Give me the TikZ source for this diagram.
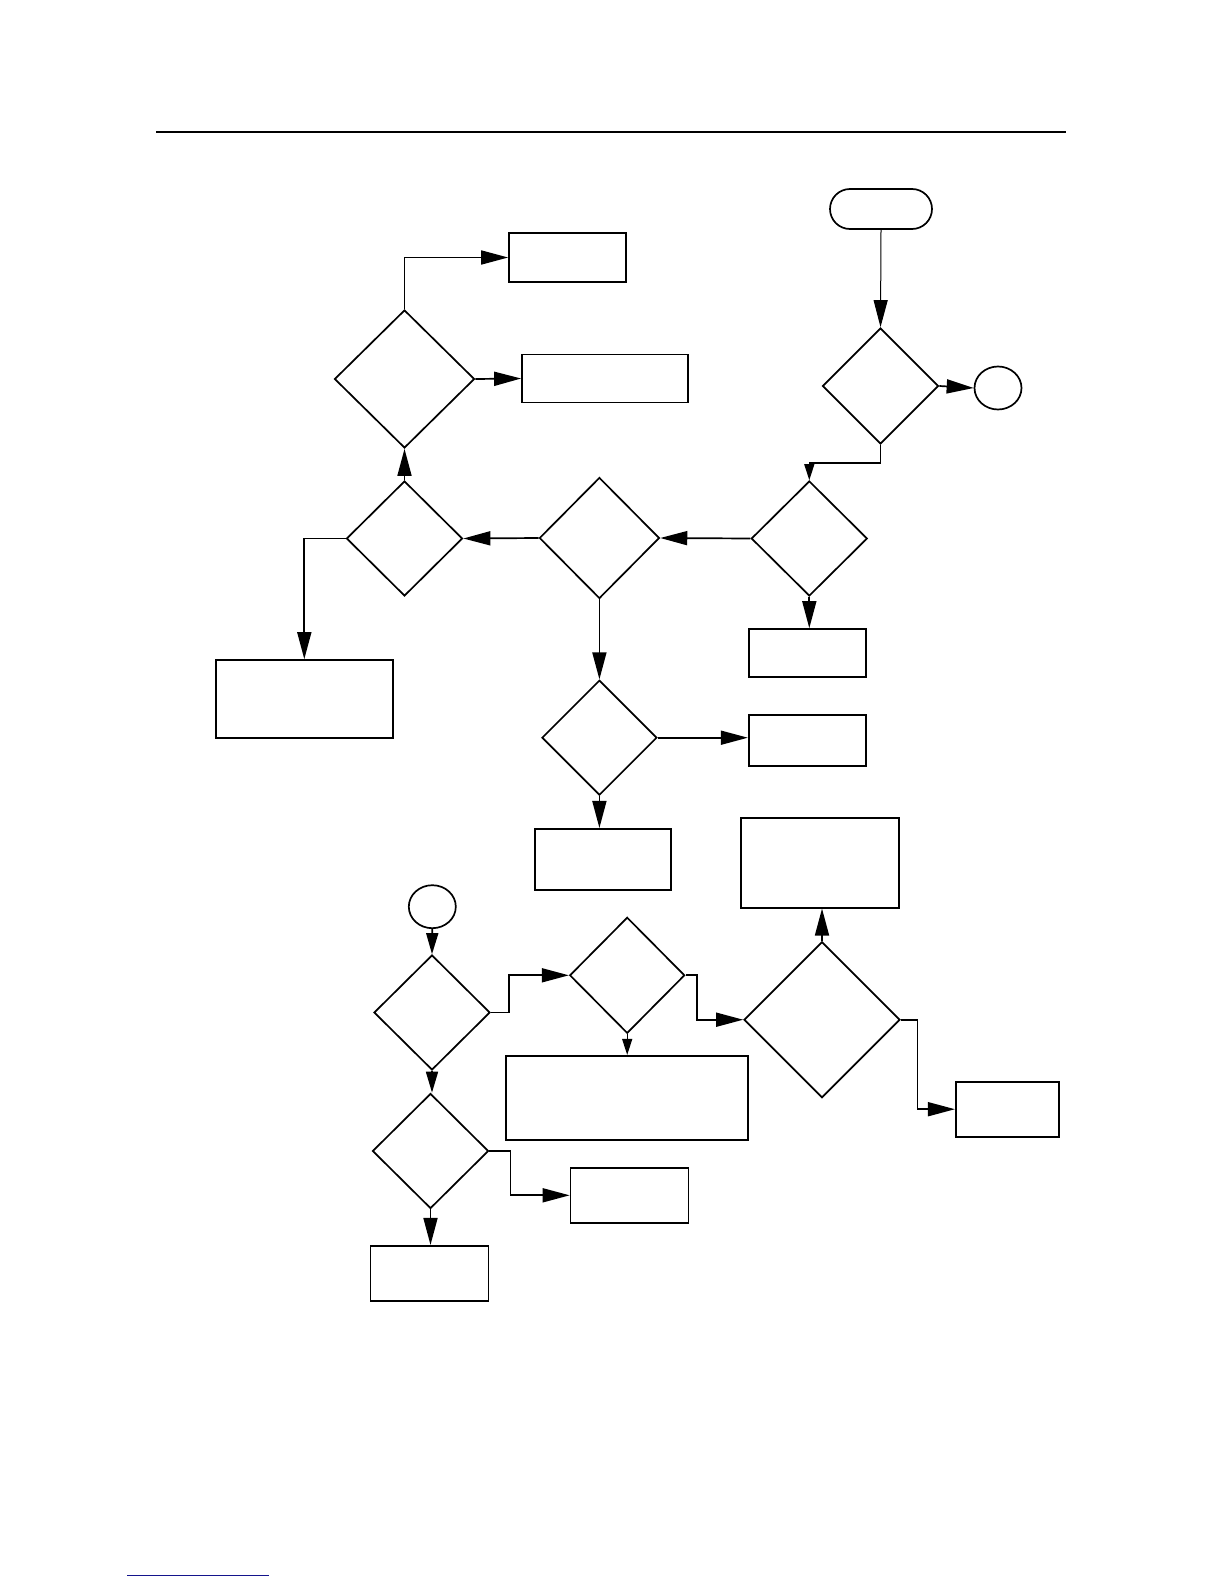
\documentclass[tikz,border=0pt]{standalone}
\usetikzlibrary{arrows.meta,shapes.geometric,shapes.misc}
\begin{document}
\begin{tikzpicture}[x=1pt,y=-1pt,
  box/.style={draw,line width=1.7pt,rectangle,inner sep=0pt},
  dia/.style={draw,line width=1.7pt,diamond,inner sep=0pt},
  circ/.style={draw,line width=1.7pt,ellipse,inner sep=0pt,minimum width=47pt,minimum height=43pt},
  term/.style={draw,line width=1.7pt,rounded rectangle,inner sep=0pt},
  arr/.style={line width=1.7pt,-{Triangle[length=27pt,width=14pt]}},
  arrm/.style={line width=1.7pt,-{Triangle[length=21pt,width=12pt]}},
  arrs/.style={line width=1.2pt,-{Triangle[length=16pt,width=10pt]}},
  arrt/.style={line width=1pt,-{Triangle[length=27pt,width=14pt]}}
]
\useasboundingbox (0,0) rectangle (1224,1584);
% header rule and footer link line
\coordinate (hl) at (156,132);
\coordinate (hr) at (1066,132);
\draw[line width=1.8pt] (hl) -- (hr);
\coordinate (fl) at (127,1575);
\coordinate (fr) at (269,1575);
\draw[line width=1pt,color={rgb,255:red,20;green,20;blue,140}] (fl) -- (fr);

% top-right start
\node[term,minimum width=102pt,minimum height=40pt] (st) at (881,209) {};
\node[dia,minimum width=116pt,minimum height=116pt] (B) at (880.5,386) {};
\node[circ] (C1) at (998,388) {};
\coordinate (bd) at (809.3,463);

% middle row of diamonds
\node[dia,minimum width=116pt,minimum height=115pt] (D) at (809.3,538.5) {};
\node[dia,minimum width=120pt,minimum height=121pt] (F) at (599.4,538) {};
\node[dia,minimum width=116pt,minimum height=115pt] (E) at (404.5,538.5) {};

% top-left
\node[dia,minimum width=140pt,minimum height=138pt] (A) at (404.5,379) {};
\node[box,minimum width=117pt,minimum height=49pt] (r1) at (567.5,257.5) {};
\node[box,minimum width=166pt,minimum height=48pt] (r2) at (605,378.5) {};

% boxes below row
\node[box,minimum width=177pt,minimum height=78pt] (G) at (304.3,699) {};
\node[box,minimum width=117pt,minimum height=48pt] (H) at (807.2,653) {};
\node[dia,minimum width=115pt,minimum height=115pt] (I) at (599.4,737.7) {};
\node[box,minimum width=117pt,minimum height=51pt] (J) at (807.2,740.2) {};
\node[box,minimum width=136pt,minimum height=61pt] (K) at (603,859.3) {};
\node[box,minimum width=158pt,minimum height=90pt] (L) at (820.3,862.7) {};

% lower section
\node[circ] (C2) at (432.3,906.7) {};
\node[dia,minimum width=116pt,minimum height=115pt] (M) at (432,1012.5) {};
\node[dia,minimum width=116pt,minimum height=115pt] (N) at (430.5,1151) {};
\node[box,minimum width=118pt,minimum height=55pt] (O) at (429.5,1273.3) {};
\node[box,minimum width=118pt,minimum height=55pt] (P) at (629.5,1195.3) {};
\node[dia,minimum width=115pt,minimum height=116pt] (Q) at (627.2,975.3) {};
\node[box,minimum width=242pt,minimum height=84pt] (R) at (627,1097.8) {};
\node[dia,minimum width=156pt,minimum height=156pt] (S) at (822,1019.7) {};
\node[box,minimum width=103pt,minimum height=55pt] (T) at (1007.3,1109.2) {};

% connectors top
\draw[arrt] (st.south) -- (B.north);
\draw[arr] (B.east) -- (C1.west);
\draw[line width=1.3pt] (B.south) |- (bd);
\draw[arrs] (bd) -- (D.north);
\draw[arr] (D.west) -- (F.east);
\draw[arr] (F.west) -- (E.east);
\draw[arr] (E.north) -- (A.south);
\draw[arr] (A.north) |- (r1.west);
\draw[arr] (A.east) -- (r2.west);
\draw[arr] (E.west) -| (G.north);
\draw[arr] (D.south) -- (D.south |- H.north);
\draw[arr] (F.south) -- (I.north);
\draw[arr] (I.east) -- (I.east -| J.west);
\draw[arr] (I.south) -- (I.south |- K.north);

% connectors bottom
\draw[arrm] (C2.south) -- (M.north);
\draw[arrm] (M.south) -- (M.south |- N.north);
\draw[arr] (N.south) -- (N.south |- O.north);
\draw[arr] (N.east) -- ++(21,0) |- (P.west);
\draw[arr] (M.east) -- ++(18,0) |- (Q.west);
\draw[arrs] (Q.south) -- (Q.south |- R.north);
\draw[arr] (Q.east) -- ++(11.5,0) |- (S.west);
\draw[arr] (S.north) -- (S.north |- L.south);
\draw[arr] (S.east) -- ++(16.5,0) |- (T.west);
\end{tikzpicture}
\end{document}
